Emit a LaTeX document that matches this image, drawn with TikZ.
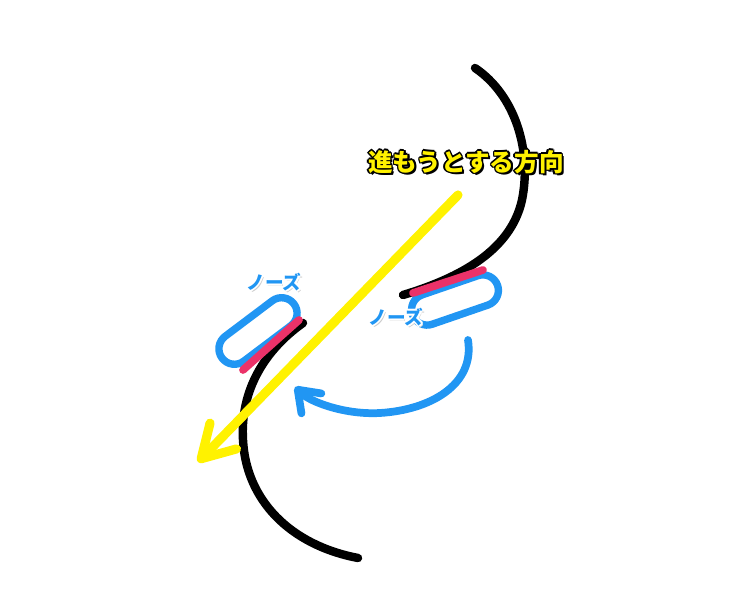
\documentclass[tikz,border=0pt]{standalone}
\usepackage{fontspec}
\newfontfamily\jpfont{Noto Sans CJK JP}
\usepackage{xcolor}
\usepackage{tikz}
\usetikzlibrary{arrows.meta}
\definecolor{noseblue}{RGB}{33,150,243}
\definecolor{edgered}{RGB}{235,50,105}
\definecolor{diryellow}{RGB}{255,242,0}

\begin{document}
\begin{tikzpicture}[x=0.01cm,y=-0.01cm,line cap=round,line join=round,
    pill/.style={draw=noseblue,line width=2.1pt,rectangle,inner sep=0pt,
      minimum width=0.9cm,minimum height=0.31cm,rounded corners=0.155cm},
    edge/.style={black,line width=2.4pt},
    rim/.style={edgered,line width=2.2pt},
    nosetext/.style={font=\jpfont\bfseries\fontsize{5.3pt}{6pt}\selectfont,text=noseblue,inner sep=0pt}]
      \useasboundingbox (0,0) rectangle (733,604);
      % the two noses
      \node[pill,rotate=19] (noseR) at (455,300) {};
      \node[pill,rotate=37] (noseL) at (258,331) {};
      % edges of the board
      \draw [edge] (475,68) .. controls (515,95) and (532,150) .. (522,200)
        .. controls (512,245) and (470,275) .. (403,295);
      \draw [edge] (303,323) .. controls (265,350) and (240,390) .. (243,440)
        .. controls (246,500) and (290,545) .. (358,558);
      \draw [rim] (413,293) -- (483,270);
      \draw [rim] (243,370) -- (299,320);
      % direction of travel
      \coordinate (dirA) at (458,195);
      \coordinate (dirB) at (198,462);
      \draw [diryellow,line width=2.6pt,-{Straight Barb[length=9pt,width=10.5pt,round]}] (dirA) -- (dirB);
      % turning arrow
      \coordinate (turnA) at (468,340);
      \coordinate (turnB) at (295,387);
      \draw [noseblue,line width=2.2pt,-{Straight Barb[length=5.5pt,width=8pt,round]}] (turnA)
        .. controls (475,385) and (430,410) .. (380,413)
        .. controls (345,415) and (310,402) .. (turnB);
      % labels
      \foreach \dx/\dy in {-1.6/0,1.6/0,0/-1.6,0/1.6,-1.2/-1.2,1.2/-1.2,-1.2/1.2,1.2/1.2,2/2.5}
        \node [font=\jpfont\bfseries\fontsize{7pt}{8pt}\selectfont,text=black,inner sep=0pt]
          at (466+\dx,162+\dy) {進もうとする方向};
      \node (dirtext) [font=\jpfont\bfseries\fontsize{7pt}{8pt}\selectfont,text=diryellow,inner sep=0pt]
        at (466,162) {進もうとする方向};
      \foreach \x/\y in {396/317,274/282}{
        \node [nosetext,text=black!20] at (\x+1.5,\y+2.5) {ノーズ};
        \foreach \dx/\dy in {-1.8/0,1.8/0,0/-1.8,0/1.8,-1.3/-1.3,1.3/-1.3,-1.3/1.3,1.3/1.3}
          \node [nosetext,text=white] at (\x+\dx,\y+\dy) {ノーズ};
      }
      \node (labelR) [nosetext] at (396,317) {ノーズ};
      \node (labelL) [nosetext] at (274,282) {ノーズ};
\end{tikzpicture}
\end{document}
